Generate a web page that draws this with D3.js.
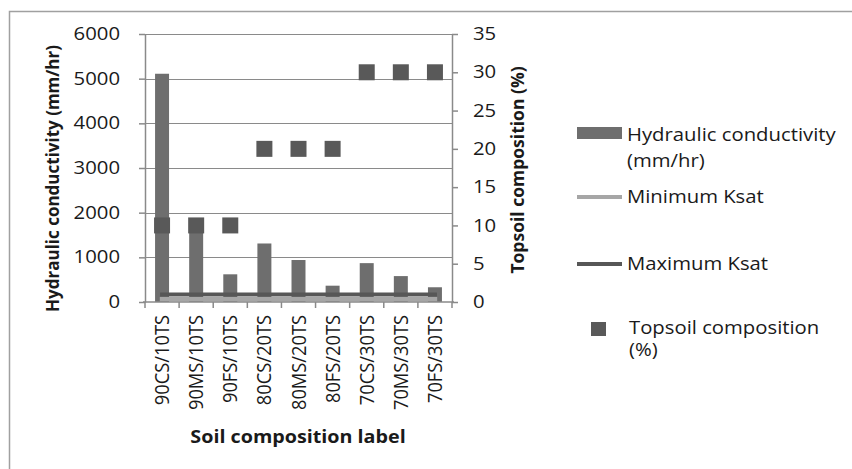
<!DOCTYPE html>
<html>
<head>
<meta charset="utf-8">
<script src="https://cdn.jsdelivr.net/npm/d3@7"></script>
<style>
  html, body { margin: 0; padding: 0; background: #fff; }
  svg { display: block; }
  text { font-family: "Open Sans", "Liberation Sans", sans-serif; fill: #1a1a1a; }
</style>
</head>
<body>
<svg id="chart" width="852" height="469"></svg>
<script>
// Soil mixes (coarse/medium/fine sand with topsoil)
const categories = ["90CS/10TS", "90MS/10TS", "90FS/10TS", "80CS/20TS", "80MS/20TS", "80FS/20TS", "70CS/30TS", "70MS/30TS", "70FS/30TS"];
const conductivity = [5110, 1780, 620, 1310, 940, 365, 870, 580, 330];   // mm/hr
const topsoil = [10, 10, 10, 20, 20, 20, 30, 30, 30];                      // %
const minKsat = [60, 60, 60, 60, 60, 60, 60, 60, 60];                      // mm/hr
const maxKsat = [170, 170, 170, 170, 170, 170, 170, 170, 170];             // mm/hr
const leftTicks = [0, 1000, 2000, 3000, 4000, 5000, 6000];
const rightTicks = [0, 5, 10, 15, 20, 25, 30, 35];

const svg = d3.select("#chart");
const plot = { left: 145, right: 452, top: 34, bottom: 302 };

const axisColor = "#8a8a8a";
const barColor = "#6e6e6e";
const squareColor = "#595959";
const fontSize = 17.5;
const wide = 1.16;   // horizontal stretch applied to horizontal labels

// stretch a text element horizontally about its own x anchor
function stretch(sel) {
  sel.attr("transform", function () {
    const ax = +this.getAttribute("x") || 0;
    return `translate(${ax},0) scale(${wide},1) translate(${-ax},0)`;
  });
}

// Outer chart frame
svg.append("rect")
  .attr("x", 9.5).attr("y", 11.5)
  .attr("width", 900).attr("height", 500)
  .attr("fill", "none").attr("stroke", "#a0a0a0").attr("stroke-width", 1.5);

const x = d3.scaleBand().domain(categories).range([plot.left, plot.right])
  .paddingInner(0.59).paddingOuter(0.295);
const xStep = x.step();
const xc = d => x(d) + x.bandwidth() / 2;
const yL = d3.scaleLinear().domain([0, 6000]).range([plot.bottom, plot.top]);
const yR = d3.scaleLinear().domain([0, 35]).range([plot.bottom, plot.top]);

// Gridlines
svg.append("g").selectAll("line").data(leftTicks.filter(t => t > 0)).join("line")
  .attr("x1", plot.left).attr("x2", plot.right)
  .attr("y1", d => Math.round(yL(d)) + 0.5).attr("y2", d => Math.round(yL(d)) + 0.5)
  .attr("stroke", axisColor).attr("stroke-width", 1);

// Bars
svg.append("g").selectAll("rect").data(categories).join("rect")
  .attr("x", d => x(d))
  .attr("width", x.bandwidth())
  .attr("y", (d, i) => yL(conductivity[i]))
  .attr("height", (d, i) => plot.bottom - yL(conductivity[i]))
  .attr("fill", barColor);

// Ksat reference lines
const line = arr => d3.line().x((d, i) => xc(categories[i])).y(d => yL(d))(arr);
svg.append("path").attr("d", line(minKsat))
  .attr("fill", "none").attr("stroke", "#a6a6a6").attr("stroke-width", 4.5).attr("stroke-linecap", "square");
svg.append("path").attr("d", line(maxKsat))
  .attr("fill", "none").attr("stroke", "#575757").attr("stroke-width", 4).attr("stroke-linecap", "square");

// Topsoil markers (secondary axis)
const sq = 16;
svg.append("g").selectAll("rect").data(categories).join("rect")
  .attr("x", d => xc(d) - sq / 2)
  .attr("y", (d, i) => yR(topsoil[i]) - sq / 2)
  .attr("width", sq).attr("height", sq)
  .attr("fill", squareColor);

// Axes
const styleAxis = g => {
  g.select(".domain").attr("stroke", axisColor).attr("stroke-width", 1.5);
  g.selectAll(".tick line").attr("stroke", axisColor).attr("stroke-width", 1.5);
  g.selectAll(".tick text").attr("font-size", fontSize).attr("fill", "#1a1a1a")
    .attr("font-family", '"Open Sans", sans-serif').call(stretch);
};

const gL = svg.append("g").attr("transform", `translate(${plot.left},0)`)
  .call(d3.axisLeft(yL).tickValues(leftTicks).tickFormat(d3.format("d")).tickSizeInner(6).tickSizeOuter(0).tickPadding(19));
styleAxis(gL);

const gR = svg.append("g").attr("transform", `translate(${plot.right},0)`)
  .call(d3.axisRight(yR).tickValues(rightTicks).tickSizeInner(6).tickSizeOuter(0).tickPadding(15));
styleAxis(gR);

// Category axis: ticks sit between categories
const gB = svg.append("g").attr("transform", `translate(0,${plot.bottom})`)
  .call(d3.axisBottom(x).tickSize(0).tickSizeOuter(0));
gB.select(".domain").remove();
gB.append("line").attr("x1", plot.left - 2).attr("x2", plot.right + 2)
  .attr("stroke", axisColor).attr("stroke-width", 1.5);
const bounds = d3.range(categories.length + 1).map(i => plot.left + i * xStep);
gB.selectAll(".bound").data(bounds).join("line").attr("class", "bound")
  .attr("x1", d => d).attr("x2", d => d).attr("y1", 0).attr("y2", 6)
  .attr("stroke", axisColor).attr("stroke-width", 1.5);
gB.selectAll(".tick text")
  .attr("font-size", 18.3).attr("fill", "#1a1a1a")
  .attr("transform", "scale(1.1,1) rotate(-90)")
  .attr("text-anchor", "end")
  .attr("x", -13).attr("y", 0).attr("dy", "0.35em");

// Axis titles
svg.append("text")
  .attr("transform", "translate(59,178.5) rotate(-90)")
  .attr("text-anchor", "middle").attr("font-size", 17).attr("font-weight", "bold")
  .text("Hydraulic conductivity  (mm/hr)");
svg.append("text")
  .attr("transform", "translate(524,170) rotate(-90)")
  .attr("text-anchor", "middle").attr("font-size", 17.5).attr("font-weight", "bold")
  .text("Topsoil composition  (%)");
svg.append("text")
  .attr("transform", `translate(298,443) scale(${wide},1)`)
  .attr("text-anchor", "middle").attr("font-size", 17).attr("font-weight", "bold")
  .text("Soil composition  label");

// Legend
const lg = svg.append("g");
const lx = 577, lw = 45, tx = 627;
const legendText = (xx, yy, s) => lg.append("text").attr("x", xx).attr("y", yy)
  .attr("dy", "0.35em").attr("font-size", fontSize).text(s).call(stretch);
lg.append("rect").attr("x", lx).attr("y", 127).attr("width", lw).attr("height", 12).attr("fill", barColor);
legendText(tx, 135, "Hydraulic conductivity");
legendText(tx, 161, "(mm/hr)");
lg.append("line").attr("x1", lx).attr("x2", lx + lw).attr("y1", 197).attr("y2", 197)
  .attr("stroke", "#a6a6a6").attr("stroke-width", 4);
legendText(tx, 197, "Minimum Ksat");
lg.append("line").attr("x1", lx).attr("x2", lx + lw).attr("y1", 264).attr("y2", 264)
  .attr("stroke", "#575757").attr("stroke-width", 4);
legendText(tx, 264, "Maximum Ksat");
lg.append("rect").attr("x", 591).attr("y", 322).attr("width", 15).attr("height", 14).attr("fill", squareColor);
legendText(629, 328, "Topsoil composition");
legendText(629, 350, "(%)");
</script>
</body>
</html>
